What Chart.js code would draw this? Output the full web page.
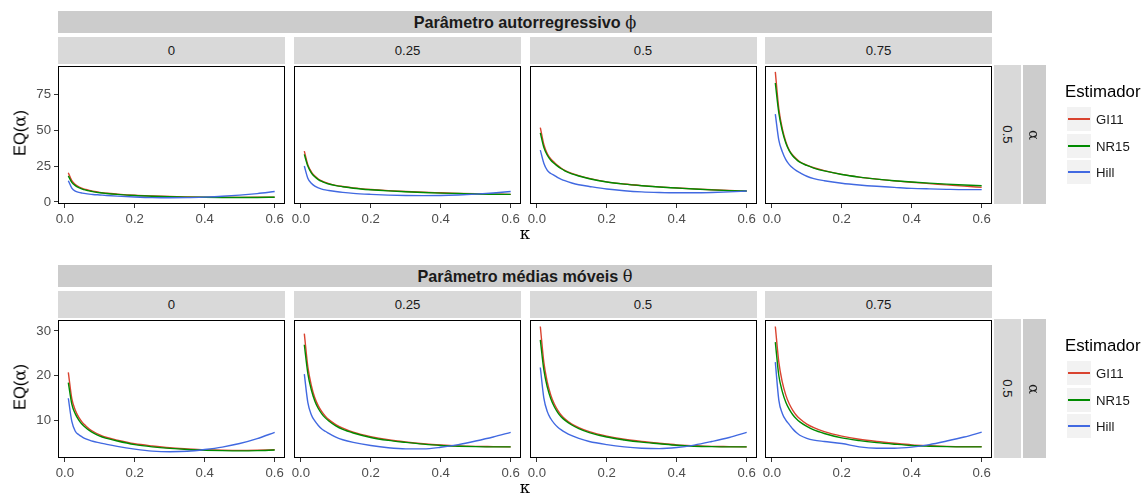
<!DOCTYPE html>
<html>
<head>
<meta charset="utf-8">
<script src="https://cdn.jsdelivr.net/npm/chart.js@4.4.0/dist/chart.umd.min.js"></script>
<style>
  body { margin: 0; background: #fff; width: 1148px; height: 493px; position: relative; overflow: hidden;
         font-family: "Liberation Sans", Arial, sans-serif; }
  .box { position: absolute; display: flex; align-items: center; justify-content: center; color: #1a1a1a; white-space: nowrap; }
  .outer { background: #cccccc; font-weight: bold; font-size: 16.2px; }
  .strip { background: #d9d9d9; font-size: 13.2px; }
  .strip2 { background: #cccccc; font-size: 15px; }
  .sym { font-family: "DejaVu Serif", "Liberation Serif", serif; font-weight: normal; }
  .rot { transform: rotate(90deg); display: inline-block; }
  .lbl { position: absolute; color: #000; white-space: nowrap; }
  .key { position: absolute; width: 24px; height: 24px; background: #f2f2f2; }
  .key i { position: absolute; left: 1px; right: 1px; top: 11px; height: 2px; }
  canvas { position: absolute; }
</style>
</head>
<body>
<script>
// valores
const kappa = [0.01, 0.02, 0.03, 0.04, 0.05, 0.06, 0.07, 0.08, 0.10, 0.12, 0.15, 0.20, 0.25, 0.30, 0.35, 0.40, 0.45, 0.50, 0.55, 0.60];
const colLabels = ['0', '0.25', '0.5', '0.75'];
const seriesNames = ['GI11', 'NR15', 'Hill'];
const xTicks = [0, 0.2, 0.4, 0.6];
const yTicksAR = [0, 25, 50, 75];
const yTicksMA = [10, 20, 30];

// Parámetro autorregresivo phi
const ar0_GI11 = [20.4, 14.8, 12.2, 10.6, 9.5, 8.7, 8.0, 7.5, 6.7, 6.1, 5.5, 4.7, 4.2, 3.8, 3.55, 3.35, 3.25, 3.2, 3.25, 3.35];
const ar0_NR15 = [18.2, 13.6, 11.4, 10.0, 9.0, 8.3, 7.7, 7.2, 6.4, 5.9, 5.3, 4.5, 4.0, 3.65, 3.4, 3.25, 3.15, 3.1, 3.15, 3.3];
const ar0_Hill = [14.8, 9.7, 7.5, 6.7, 6.2, 5.8, 5.5, 5.25, 4.9, 4.55, 4.1, 3.5, 3.05, 2.9, 3.0, 3.4, 3.95, 4.75, 5.85, 7.25];
const ar25_GI11 = [35.4, 26.0, 21.0, 18.0, 16.0, 14.6, 13.6, 12.8, 11.6, 10.8, 9.8, 8.7, 7.9, 7.3, 6.8, 6.4, 6.0, 5.7, 5.5, 5.3];
const ar25_NR15 = [33.1, 25.0, 20.3, 17.5, 15.6, 14.3, 13.3, 12.5, 11.4, 10.6, 9.6, 8.5, 7.7, 7.1, 6.6, 6.2, 5.9, 5.6, 5.4, 5.3];
const ar25_Hill = [25.0, 16.5, 13.0, 11.0, 9.8, 9.0, 8.4, 8.0, 7.3, 6.7, 6.0, 5.3, 4.8, 4.5, 4.4, 4.5, 4.9, 5.5, 6.3, 7.3];
const ar50_GI11 = [51.8, 40.0, 33.5, 30.0, 27.5, 25.3, 23.5, 22.0, 19.9, 18.3, 16.4, 14.0, 12.5, 11.4, 10.5, 9.8, 9.1, 8.5, 8.0, 7.6];
const ar50_NR15 = [48.1, 38.0, 32.5, 29.0, 26.8, 24.8, 23.1, 21.7, 19.6, 18.1, 16.2, 13.9, 12.4, 11.3, 10.4, 9.7, 9.0, 8.4, 7.9, 7.6];
const ar50_Hill = [36.1, 27.0, 22.0, 19.8, 18.5, 17.0, 15.8, 14.8, 13.2, 12.0, 10.8, 9.0, 7.8, 7.0, 6.6, 6.4, 6.4, 6.6, 7.0, 7.6];
const ar75_GI11 = [90.5, 65.0, 51.0, 42.0, 36.0, 32.5, 30.0, 28.0, 25.7, 23.8, 21.8, 19.2, 17.3, 15.9, 14.7, 13.7, 12.8, 11.9, 11.0, 10.2];
const ar75_NR15 = [82.8, 62.0, 49.5, 41.0, 35.5, 32.0, 29.6, 27.7, 25.4, 23.6, 21.6, 19.1, 17.3, 15.9, 14.8, 13.9, 13.1, 12.4, 11.8, 11.3];
const ar75_Hill = [61.1, 43.0, 35.0, 29.5, 26.0, 23.6, 21.8, 20.4, 17.9, 16.3, 14.8, 13.0, 11.8, 10.9, 10.2, 9.5, 9.1, 8.8, 8.6, 8.6];

// Parámetro medias móviles theta
const ma0_GI11 = [20.7, 14.8, 12.2, 10.6, 9.5, 8.7, 8.0, 7.5, 6.7, 6.1, 5.5, 4.7, 4.2, 3.8, 3.55, 3.35, 3.25, 3.2, 3.25, 3.35];
const ma0_NR15 = [18.4, 13.6, 11.4, 10.0, 9.0, 8.3, 7.7, 7.2, 6.4, 5.9, 5.3, 4.5, 4.0, 3.65, 3.4, 3.25, 3.15, 3.1, 3.15, 3.3];
const ma0_Hill = [14.9, 9.7, 7.5, 6.7, 6.2, 5.8, 5.5, 5.25, 4.9, 4.55, 4.1, 3.5, 3.05, 2.9, 3.0, 3.4, 3.95, 4.75, 5.85, 7.25];
const ma25_GI11 = [29.4, 22.0, 17.8, 15.0, 13.2, 11.9, 10.9, 10.1, 9.0, 8.2, 7.3, 6.3, 5.6, 5.1, 4.7, 4.4, 4.2, 4.1, 4.05, 4.0];
const ma25_NR15 = [26.9, 20.5, 16.8, 14.3, 12.6, 11.4, 10.5, 9.8, 8.7, 7.9, 7.1, 6.1, 5.45, 5.0, 4.6, 4.3, 4.15, 4.05, 4.0, 4.0];
const ma25_Hill = [20.3, 14.0, 11.2, 9.8, 8.8, 8.0, 7.5, 7.0, 6.2, 5.6, 5.0, 4.3, 3.8, 3.55, 3.55, 3.9, 4.5, 5.3, 6.2, 7.25];
const ma50_GI11 = [31.0, 23.0, 18.5, 15.6, 13.6, 12.2, 11.1, 10.3, 9.1, 8.3, 7.4, 6.4, 5.7, 5.2, 4.8, 4.45, 4.25, 4.1, 4.05, 4.0];
const ma50_NR15 = [28.0, 21.3, 17.4, 14.8, 13.0, 11.7, 10.7, 10.0, 8.9, 8.1, 7.2, 6.2, 5.55, 5.05, 4.7, 4.35, 4.15, 4.05, 4.0, 4.0];
const ma50_Hill = [21.8, 15.0, 11.9, 10.3, 9.2, 8.4, 7.8, 7.3, 6.5, 5.9, 5.2, 4.5, 4.0, 3.7, 3.6, 3.85, 4.4, 5.2, 6.1, 7.25];
const ma75_GI11 = [31.0, 23.0, 18.5, 15.6, 13.6, 12.2, 11.1, 10.3, 9.1, 8.3, 7.4, 6.4, 5.7, 5.2, 4.8, 4.45, 4.25, 4.1, 4.05, 4.05];
const ma75_NR15 = [27.5, 20.0, 16.4, 14.0, 12.4, 11.2, 10.3, 9.6, 8.6, 7.8, 7.0, 6.0, 5.4, 4.95, 4.6, 4.3, 4.15, 4.05, 4.0, 4.0];
const ma75_Hill = [23.0, 14.5, 11.5, 10.0, 9.0, 8.0, 7.2, 6.6, 5.9, 5.5, 5.2, 4.75, 4.0, 3.7, 3.7, 3.95, 4.5, 5.3, 6.2, 7.3];

const colors = { GI11: '#d9432f', NR15: '#008b00', Hill: '#4169e1' };

const rows = [
    { title: '<span>Parâmetro autorregressivo <span class="sym">ϕ</span></span>', yMin: -1.4, yMax: 94.6, yTicks: yTicksAR,
      outerTop: 11, stripTop: 37, panelTop: 66,
      panels: [[ar0_GI11, ar0_NR15, ar0_Hill], [ar25_GI11, ar25_NR15, ar25_Hill],
               [ar50_GI11, ar50_NR15, ar50_Hill], [ar75_GI11, ar75_NR15, ar75_Hill]] },
    { title: '<span>Parâmetro médias móveis <span class="sym">θ</span></span>', yMin: 1.5, yMax: 32.45, yTicks: yTicksMA,
      outerTop: 265, stripTop: 291, panelTop: 320,
      panels: [[ma0_GI11, ma0_NR15, ma0_Hill], [ma25_GI11, ma25_NR15, ma25_Hill],
               [ma50_GI11, ma50_NR15, ma50_Hill], [ma75_GI11, ma75_NR15, ma75_Hill]] }
];

const colLeft = [58, 294, 529.5, 765];
const panelW = 227;
const panelH = 138;

function addDiv(cls, x, y, w, h, html) {
    const d = document.createElement('div');
    d.className = cls;
    d.style.left = x + 'px'; d.style.top = y + 'px';
    if (w != null) d.style.width = w + 'px';
    if (h != null) d.style.height = h + 'px';
    d.innerHTML = html;
    document.body.appendChild(d);
    return d;
}

// dibuja el borde negro del panel
const panelBorder = {
    id: 'panelBorder',
    afterDraw(chart) {
        const a = chart.chartArea, ctx = chart.ctx;
        ctx.save();
        ctx.strokeStyle = '#000';
        ctx.lineWidth = 1;
        ctx.strokeRect(a.left + 0.5, a.top + 0.5, a.right - a.left - 1, a.bottom - a.top - 1);
        ctx.restore();
    }
};

Chart.defaults.font.family = '"Liberation Sans", Arial, sans-serif';

function makePanel(row, c) {
    const padL = c === 0 ? 0 : 12;
    const yW = c === 0 ? 58 : 0;
    const padR = 12, padT = 5, xH = 28;
    const canvas = document.createElement('canvas');
    const left = colLeft[c] - padL - yW;
    const w = padL + yW + panelW + padR;
    const h = padT + panelH + xH;
    canvas.width = w; canvas.height = h;
    canvas.style.left = left + 'px';
    canvas.style.top = (row.panelTop - padT) + 'px';
    document.body.appendChild(canvas);

    const series = row.panels[c];
    const datasets = seriesNames.map((name, i) => ({
        label: name,
        data: kappa.map((k, j) => ({ x: k, y: series[i][j] })),
        borderColor: colors[name],
        borderWidth: 1.4,
        pointRadius: 0,
        fill: false,
        cubicInterpolationMode: 'monotone',
        order: 3 - i
    }));

    new Chart(canvas.getContext('2d'), {
        type: 'line',
        data: { datasets: datasets },
        options: {
            responsive: false,
            animation: false,
            devicePixelRatio: 1,
            layout: { padding: { left: padL, right: padR, top: padT, bottom: 0 } },
            plugins: { legend: { display: false }, tooltip: { enabled: false } },
            scales: {
                x: {
                    type: 'linear', min: -0.0195, max: 0.6295,
                    grid: { drawOnChartArea: false, drawTicks: true, tickLength: 4, color: '#333333' },
                    border: { display: false },
                    ticks: { autoSkip: false, maxRotation: 0, padding: 3, color: '#4d4d4d', font: { size: 13.2 },
                             callback: v => v.toFixed(1) },
                    afterBuildTicks: s => { s.ticks = xTicks.map(v => ({ value: v })); },
                    afterFit: s => { s.height = xH; s.paddingLeft = 0; s.paddingRight = 0; }
                },
                y: {
                    display: c === 0,
                    min: row.yMin, max: row.yMax,
                    grid: { drawOnChartArea: false, drawTicks: true, tickLength: 4, color: '#333333' },
                    border: { display: false },
                    ticks: { autoSkip: false, padding: 3, color: '#4d4d4d', font: { size: 13.2 } },
                    afterBuildTicks: s => { s.ticks = row.yTicks.map(v => ({ value: v })); },
                    afterFit: s => { s.width = yW; s.paddingTop = 0; s.paddingBottom = 0; }
                }
            }
        },
        plugins: [panelBorder]
    });
}

rows.forEach(row => {
    addDiv('box outer', 58, row.outerTop, 934, 22, row.title);
    colLabels.forEach((lab, c) => {
        addDiv('box strip', colLeft[c], row.stripTop, panelW, 27, lab);
        makePanel(row, c);
    });
    addDiv('box strip', 994, row.panelTop - 1, 27, panelH + 1, '<span class="rot">0.5</span>');
    addDiv('box strip2', 1023, row.panelTop - 1, 23, panelH + 1, '<span class="rot sym">α</span>');
    // etiqueta eje y
    const yl = addDiv('lbl', 20, row.panelTop + panelH / 2 - 2, null, null, 'EQ(<span class="sym">α</span>)');
    yl.style.fontSize = '16.5px';
    yl.style.transform = 'translate(-50%,-50%) rotate(-90deg)';
    // etiqueta eje x
    const xl = addDiv('lbl sym', 525, row.panelTop + panelH + 29, null, null, 'κ');
    xl.style.fontSize = '16.5px';
    xl.style.transform = 'translate(-50%,-50%)';
    // leyenda
    const lt = addDiv('lbl', 1065, row.panelTop + 26, null, null, 'Estimador');
    lt.style.fontSize = '16.8px';
    lt.style.transform = 'translateY(-50%)';
    seriesNames.forEach((name, i) => {
        const ky = row.panelTop + 41 + i * 26.5;
        const k = addDiv('key', 1067, ky, null, null, '<i></i>');
        k.firstChild.style.background = colors[name];
        const t = addDiv('lbl', 1096, ky + 12, null, null, name);
        t.style.fontSize = '13.2px';
        t.style.color = '#1a1a1a';
        t.style.transform = 'translateY(-50%)';
    });
});
</script>
</body>
</html>
